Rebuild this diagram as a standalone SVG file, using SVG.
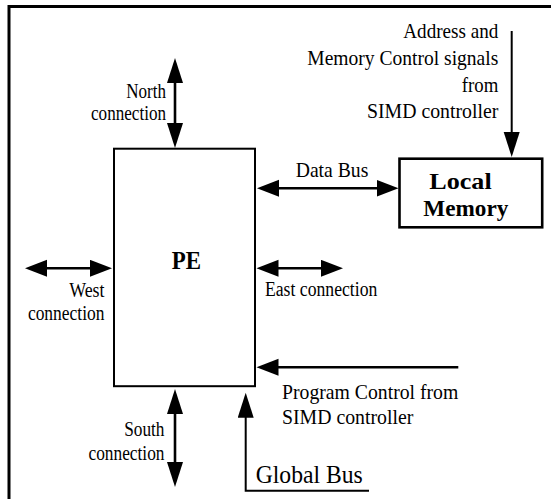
<svg xmlns="http://www.w3.org/2000/svg" width="551" height="499" viewBox="0 0 551 499" font-family="'Liberation Serif', 'Times New Roman', 'DejaVu Serif', serif">
<style>
text{font-family:'Liberation Serif','Times New Roman','DejaVu Serif',serif;fill:#000}
.s{font-size:20px}
.m{font-size:22px}
.b{font-weight:bold;font-size:26px}
.lm{font-weight:bold;font-size:23px}
.g{font-size:26px}
.box{fill:#fff;stroke:#000}
.c{fill:none;stroke:#000}
</style>
<defs>
<marker id="mh" markerUnits="userSpaceOnUse" markerWidth="24" markerHeight="18" refX="16" refY="8.5" orient="auto-start-reverse"><path d="M0,0 L22,8.5 L0,17 Z" fill="#000"/></marker>
<marker id="mv" markerUnits="userSpaceOnUse" markerWidth="27" markerHeight="18" refX="19" refY="8" orient="auto-start-reverse"><path d="M0,0 L25,8 L0,16 Z" fill="#000"/></marker>
</defs>
<path id="frame" d="M9,499 V6.5 H551" fill="none" stroke="#000" stroke-width="3"/>
<g id="pe">
<rect class="box" x="114" y="148.7" width="141" height="237.5" stroke-width="2"/>
<text class="b" x="171.7" y="269" textLength="29.3" lengthAdjust="spacingAndGlyphs">PE</text>
</g>
<g id="local-memory">
<rect class="box" x="399.5" y="158.7" width="142.7" height="68.6" stroke-width="2.6"/>
<text class="lm" x="429.3" y="189" textLength="62.4" lengthAdjust="spacingAndGlyphs">Local</text>
<text class="lm" x="423.3" y="216" textLength="85" lengthAdjust="spacingAndGlyphs">Memory</text>
</g>
<g id="connectors">
<line class="c" stroke-width="2.6" x1="175" y1="64" x2="175" y2="142" marker-start="url(#mv)" marker-end="url(#mv)"/>
<line class="c" stroke-width="2.6" x1="175" y1="395" x2="175" y2="481" marker-start="url(#mv)" marker-end="url(#mv)"/>
<line class="c" stroke-width="2.6" x1="31" y1="268.3" x2="106" y2="268.3" marker-start="url(#mh)" marker-end="url(#mh)"/>
<line class="c" stroke-width="2.6" x1="262.5" y1="268.3" x2="337" y2="268.3" marker-start="url(#mh)" marker-end="url(#mh)"/>
<line class="c" stroke-width="2.6" x1="263" y1="188.3" x2="392.5" y2="188.3" marker-start="url(#mh)" marker-end="url(#mh)"/>
<line class="c" stroke-width="2" x1="511.7" y1="31" x2="511.7" y2="151" marker-end="url(#mv)"/>
<line class="c" stroke-width="2.6" x1="458.3" y1="367.3" x2="262.5" y2="367.3" marker-end="url(#mh)"/>
<path class="c" stroke-width="2" d="M369,490.7 H245.7 V398.7" marker-end="url(#mv)"/>
</g>
<g id="labels">
<text class="s" x="166" y="97.5" text-anchor="end" textLength="39.7" lengthAdjust="spacingAndGlyphs">North</text>
<text class="s" x="166" y="120" text-anchor="end" textLength="75" lengthAdjust="spacingAndGlyphs">connection</text>
<text class="s" x="104.5" y="297" text-anchor="end" textLength="35.3" lengthAdjust="spacingAndGlyphs">West</text>
<text class="s" x="104.5" y="319.7" text-anchor="end" textLength="76.6" lengthAdjust="spacingAndGlyphs">connection</text>
<text class="s" x="164.5" y="435.5" text-anchor="end" textLength="40.3" lengthAdjust="spacingAndGlyphs">South</text>
<text class="s" x="164.5" y="459.7" text-anchor="end" textLength="76" lengthAdjust="spacingAndGlyphs">connection</text>
<text class="s" x="265" y="295.5" textLength="112.3" lengthAdjust="spacingAndGlyphs">East connection</text>
<text class="m" x="295.7" y="177" textLength="72.6" lengthAdjust="spacingAndGlyphs">Data Bus</text>
<text class="m" x="498.3" y="37.5" text-anchor="end" textLength="95" lengthAdjust="spacingAndGlyphs">Address and</text>
<text class="m" x="498.3" y="64.7" text-anchor="end" textLength="191" lengthAdjust="spacingAndGlyphs">Memory Control signals</text>
<text class="m" x="498.3" y="91.5" text-anchor="end" textLength="36.5" lengthAdjust="spacingAndGlyphs">from</text>
<text class="m" x="498.3" y="118" text-anchor="end" textLength="131.3" lengthAdjust="spacingAndGlyphs">SIMD controller</text>
<text class="m" x="282" y="398.5" textLength="176.3" lengthAdjust="spacingAndGlyphs">Program Control from</text>
<text class="m" x="282" y="424.3" textLength="131.3" lengthAdjust="spacingAndGlyphs">SIMD controller</text>
<text class="g" x="255.7" y="483" textLength="107" lengthAdjust="spacingAndGlyphs">Global Bus</text>
</g>
</svg>
